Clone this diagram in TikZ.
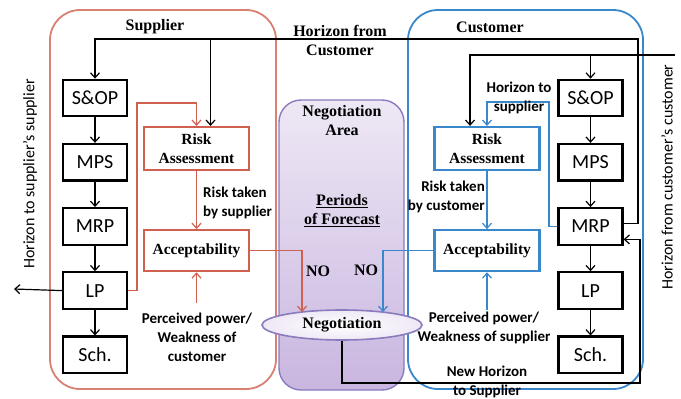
\documentclass[tikz,border=0pt]{standalone}
\usepackage{fontspec}
\setmainfont{Liberation Serif}
\setsansfont{Carlito}
\usepackage{tikz}
\usetikzlibrary{arrows.meta,positioning,shapes.geometric,calc}
\definecolor{supred}{HTML}{D0604F}
\definecolor{custblue}{HTML}{3A87CC}
\definecolor{negpurple}{HTML}{8A7BBE}
\definecolor{neglav}{HTML}{C9B6E0}
\definecolor{neglight}{HTML}{EEE8F5}
\tikzset{
  planblock/.style={
    rectangle, draw=black, line width=2.2pt, fill=white,
    minimum width=64pt, minimum height=36.5pt, inner sep=2pt,
    font=\sffamily\fontsize{20}{24}\selectfont
  },
  riskblock/.style={
    rectangle, draw=#1, line width=2.2pt, fill=white,
    minimum width=105pt, minimum height=43pt, align=center, inner sep=2pt,
    font=\bfseries\fontsize{15.5}{19}\selectfont
  },
  riskblock/.default=supred,
  flowarrow/.style={
    -{Straight Barb[length=5pt,width=9pt]}, line width=1.2pt, color=#1
  },
  flowarrow/.default=black,
  zone/.style={
    draw=#1, line width=1.8pt, rounded corners=30pt, fill=white
  },
  zone/.default=supred,
  titlenote/.style={
    font=\bfseries\fontsize{16}{19}\selectfont, align=center, inner sep=1pt
  },
  sidenote/.style={
    font=\sffamily\bfseries\fontsize{15}{19}\selectfont, align=center, inner sep=1pt
  },
  sidetext/.style={
    font=\sffamily\fontsize{16}{18}\selectfont, rotate=90, inner sep=1pt
  },
}
\begin{document}
\begin{tikzpicture}[x=1pt, y=-1pt]
  \useasboundingbox (0,0) rectangle (681,399);

  % Containers
  \draw[zone=supred!80] (50,10) rectangle (276,389);
  \draw[zone=custblue] (408,10) rectangle (643,389);
  \draw[draw=negpurple, line width=1.4pt, rounded corners=22pt,
        top color=neglight, bottom color=neglav] (279,100) rectangle (404,390);

  % Titles
  \node[titlenote] (suptitle) at (155,27) {Supplier};
  \node[titlenote] (custtitle) at (490,27) {Customer};
  \node[titlenote] (negtitle) at (342,121) {Negotiation\\Area};
  \node[titlenote] (periods) at (342,211) {\underline{Periods}\\\underline{of Forecast}};

  % Supplier planning column
  \node[planblock] (sop1) at (95,98) {S\&OP};
  \node[planblock, below=25.5pt of sop1] (mps1) {MPS};
  \node[planblock, below=25.5pt of mps1] (mrp1) {MRP};
  \node[planblock, below=25.5pt of mrp1] (lp1) {LP};
  \node[planblock, below=25.5pt of lp1] (sch1) {Sch.};

  % Customer planning column
  \node[planblock] (sop2) at (590.5,98) {S\&OP};
  \node[planblock, below=25.5pt of sop2] (mps2) {MPS};
  \node[planblock, below=25.5pt of mps2] (mrp2) {MRP};
  \node[planblock, below=25.5pt of mrp2] (lp2) {LP};
  \node[planblock, below=25.5pt of lp2] (sch2) {Sch.};

  % Risk and acceptability blocks
  \node[riskblock=supred] (ra1) at (196.5,148.5) {Risk\\Assessment};
  \node[riskblock=supred, minimum height=41pt, below=58pt of ra1] (acc1) {Acceptability};
  \node[riskblock=custblue] (ra2) at (487,148.5) {Risk\\Assessment};
  \node[riskblock=custblue, minimum height=41pt, below=58pt of ra2] (acc2) {Acceptability};

  % Negotiation
  \node[ellipse, draw=negpurple, line width=1.6pt, minimum width=160pt,
        minimum height=30pt, inner sep=0pt, inner color=white,
        outer color=neglight, font=\bfseries\fontsize{16}{19}\selectfont]
        (neg) at (342,325) {Negotiation};

  % Planning flows
  \foreach \from/\to in {sop1/mps1, mps1/mrp1, mrp1/lp1, lp1/sch1,
                         sop2/mps2, mps2/mrp2, mrp2/lp2, lp2/sch2}
    \draw[flowarrow] (\from) -- (\to);

  % Horizon from customer
  \coordinate (hzcorner) at (638,39);
  \draw[flowarrow] ([yshift=3pt]mrp2.east) -| (hzcorner) -| (sop1.north);
  \draw[flowarrow] ([xshift=14pt]ra1.north |- hzcorner) -- ([xshift=14pt]ra1.north);
  \node[titlenote] (hzlabel) at (340,40) {Horizon from\\Customer};

  % Horizon from customer's customer
  \coordinate (hccorner) at (675,55);
  \draw[flowarrow] (hccorner) -| ([xshift=-17pt]ra2.north);
  \draw[flowarrow] (sop2.north |- hccorner) -- (sop2.north);
  \node[sidetext] (hclabel) at (667,177) {Horizon from customer's customer};

  % Horizon to supplier's supplier
  \coordinate (hsend) at (14,289);
  \draw[flowarrow] (lp1.west) -- (hsend);
  \node[sidetext] (hslabel) at (30,174) {Horizon to supplier's supplier};

  % Supplier side
  \coordinate (sloop) at (137,103);
  \draw[flowarrow=supred] (lp1.east) -| (sloop) -| (ra1.north);
  \draw[flowarrow=supred] (ra1) -- (acc1);
  \node[sidenote, anchor=west, align=left] (srisk) at (202,203) {Risk taken\\by supplier};
  \node[sidenote] (spower) at (197,337) {Perceived power/\\Weakness of\\customer};
  \draw[flowarrow=supred] ([yshift=8pt]acc1.south |- spower.north) -- (acc1.south);
  \draw[flowarrow=supred] (acc1.east) -| ([xshift=-40pt,yshift=13pt]neg.center);
  \node[titlenote] (sno) at (318,271) {NO};

  % Customer side
  \coordinate (cloop) at (549,102);
  \draw[flowarrow=custblue] (mrp2.west) -| (cloop) -| (ra2.north);
  \node[sidenote] (hslabel2) at (519,98) {Horizon to\\supplier};
  \draw[flowarrow=custblue] (ra2) -- (acc2);
  \node[sidenote, anchor=east, align=right] (crisk) at (486,197) {Risk taken\\by customer};
  \node[sidenote] (cpower) at (484,328) {Perceived power/\\Weakness of supplier};
  \draw[flowarrow=custblue] ([yshift=1pt]acc2.south |- cpower.north) -- (acc2.south);
  \draw[flowarrow=custblue] (acc2.west) -| ([xshift=41pt,yshift=13pt]neg.center);
  \node[titlenote] (cno) at (366,270) {NO};

  % New horizon back to the customer
  \coordinate (nhcorner) at (640,383);
  \draw[flowarrow] (neg.south) |- (nhcorner) |- ([yshift=-13pt]mrp2.east);
  \node[sidenote] (nhlabel) at (487,382) {New Horizon\\to Supplier};
\end{tikzpicture}
\end{document}
